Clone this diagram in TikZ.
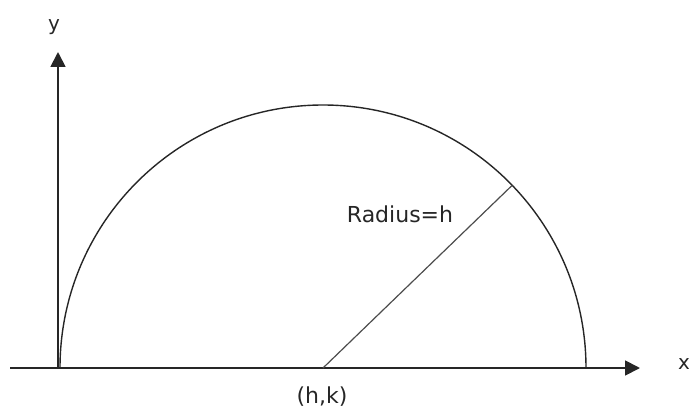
\documentclass[tikz,border=0pt]{standalone}
\usepackage{fontspec}
\setmainfont{DejaVu Sans}
\usetikzlibrary{arrows.meta}
\begin{document}
\begin{tikzpicture}[x=1pt,y=-1pt,
  axisline/.style={draw=black!85,line width=1.8pt,-{Triangle[length=15pt,width=15pt]}},
  curve/.style={draw=black!85,line width=1.4pt},
  radline/.style={draw=black!70,line width=1.2pt},
  lbl/.style={inner sep=0pt,text=black!85}]
\useasboundingbox (0,0) rectangle (691,412);
\coordinate (o) at (58,368);
\coordinate (xs) at (10,368);
\coordinate (xe) at (640,368);
\coordinate (ye) at (58,52);
\coordinate (c) at (323,368);
\coordinate (ls) at (60,368);
\draw[axisline] (xs) -- (xe);
\draw[axisline] (o) -- (ye);
\draw[curve] (ls) arc[start angle=180,end angle=0,radius=263pt];
\draw[radline] (c) -- ++(44:263pt) coordinate (rr);
\node[lbl,font=\fontsize{20}{22}\selectfont] (ylab) at (54,27) {y};
\node[lbl,font=\fontsize{20}{22}\selectfont] (xlab) at (684,364) {x};
\node[lbl,font=\fontsize{22}{24}\selectfont] (hk) at (322,397) {(h,k)};
\node[lbl,font=\fontsize{22}{24}\selectfont] (rad) at (400,214) {Radius=h};
\end{tikzpicture}
\end{document}
